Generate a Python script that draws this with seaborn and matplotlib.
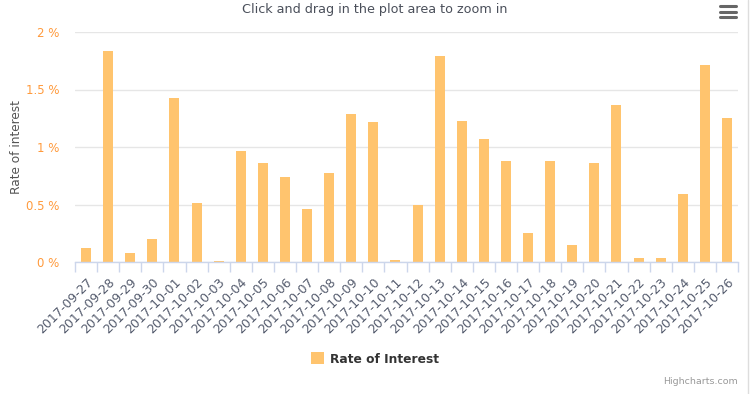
import matplotlib
matplotlib.use("Agg")
import matplotlib.pyplot as plt
import seaborn as sns
import pandas as pd
from matplotlib.lines import Line2D
from matplotlib.ticker import FixedLocator, FuncFormatter

dates = ["2017-09-27", "2017-09-28", "2017-09-29", "2017-09-30", "2017-10-01",
         "2017-10-02", "2017-10-03", "2017-10-04", "2017-10-05", "2017-10-06",
         "2017-10-07", "2017-10-08", "2017-10-09", "2017-10-10", "2017-10-11",
         "2017-10-12", "2017-10-13", "2017-10-14", "2017-10-15", "2017-10-16",
         "2017-10-17", "2017-10-18", "2017-10-19", "2017-10-20", "2017-10-21",
         "2017-10-22", "2017-10-23", "2017-10-24", "2017-10-25", "2017-10-26"]
rates = [0.12, 1.835, 0.078, 0.20, 1.426,
         0.513, 0.01, 0.965, 0.861, 0.739,
         0.461, 0.774, 1.287, 1.217, 0.017,
         0.496, 1.79, 1.226, 1.07, 0.878,
         0.252, 0.878, 0.148, 0.861, 1.365,
         0.035, 0.035, 0.591, 1.713, 1.252]
y_ticks = [0, 0.5, 1, 1.5, 2]
series_name = "Rate of Interest"

sns.set_theme(style="white")
plt.rcParams["font.family"] = ["DejaVu Sans"]

df = pd.DataFrame({"date": dates, "rate": rates})

fig = plt.figure(figsize=(7.5, 3.94), dpi=100)
ax = fig.add_axes([75 / 750, 1 - 262 / 394, (738 - 75) / 750, (262 - 32) / 394])

bar_color = "#FFC46E"
sns.barplot(data=df, x="date", y="rate", color=bar_color, width=0.45,
            saturation=1, ax=ax, label=series_name, edgecolor="none")

ax.set_xlim(-0.5, len(dates) - 0.5)
ax.set_ylim(0, 2)
ax.yaxis.set_major_locator(FixedLocator(y_ticks))
ax.yaxis.set_major_formatter(FuncFormatter(lambda v, p: f"{v:g} %"))
ax.grid(axis="y", color="#e6e6e6", linewidth=1)
ax.set_axisbelow(True)
for s in ["top", "right", "left"]:
    ax.spines[s].set_visible(False)
ax.spines["bottom"].set_color("#ccd6eb")
ax.spines["bottom"].set_linewidth(1)

ax.tick_params(axis="y", length=0, labelsize=8.5, labelcolor="#FF9A3C", pad=11)
ax.set_xticks(range(len(dates)))
ax.set_xticklabels(dates, rotation=45, ha="right", va="top",
                   rotation_mode="anchor", fontsize=9, color="#555c6e")
ax.tick_params(axis="x", which="major", length=0, pad=10)
ax.set_xticks([i - 0.5 for i in range(len(dates) + 1)], minor=True)
ax.tick_params(axis="x", which="minor", length=7, width=1, color="#ccd6eb",
               direction="out", bottom=True)

ax.set_xlabel("")
ax.set_ylabel("Rate of interest", fontsize=8.7, color="#555555")
ax.yaxis.set_label_coords(-0.078, 0.5)

fig.text(0.5, 1 - 10 / 394, "Click and drag in the plot area to zoom in",
         ha="center", va="center", fontsize=9.2, color="#4a4f5a")

leg = ax.legend(loc="center", bbox_to_anchor=(0.5, 1 - 359 / 394),
                bbox_transform=fig.transFigure, frameon=False,
                handlelength=1.1, handleheight=1.1, handletextpad=0.5,
                prop={"weight": "bold", "size": 8.8})
for t in leg.get_texts():
    t.set_color("#333333")

fig.text(738 / 750, 1 - 381 / 394, "Highcharts.com", ha="right", va="center",
         fontsize=6.8, color="#999999")

# menu icon
for yy in [6, 11.5, 17]:
    fig.add_artist(Line2D([720 / 750, 736 / 750], [1 - yy / 394, 1 - yy / 394],
                          color="#666666", linewidth=2.2, solid_capstyle="round"))
# container border on right
fig.add_artist(Line2D([748 / 750, 748 / 750], [0, 1], color="#dddddd", linewidth=1))

fig.savefig("out.png", dpi=100)
